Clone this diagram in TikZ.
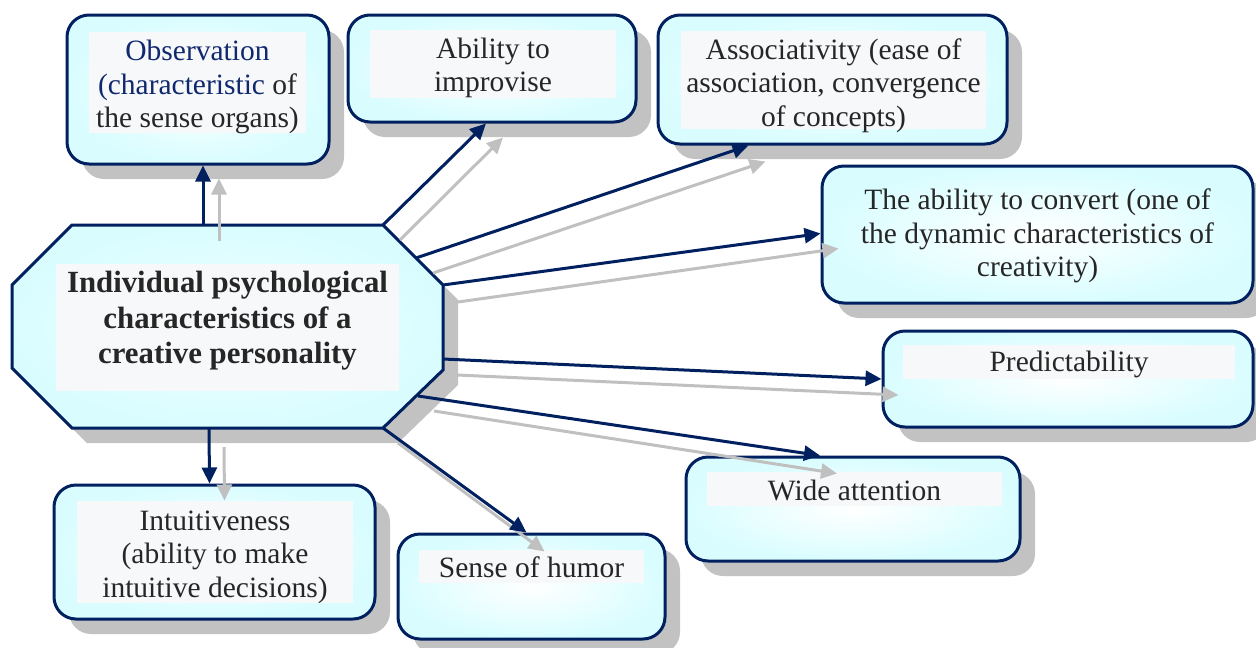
\documentclass[tikz,border=0pt]{standalone}
\usepackage{fontspec}
\setmainfont{Liberation Serif}
\usetikzlibrary{arrows.meta,shadows,calc}
\definecolor{navy}{RGB}{0,32,96}
\definecolor{boxcyan}{RGB}{217,253,255}
\definecolor{shadowgray}{RGB}{194,194,194}
\definecolor{txtbg}{RGB}{247,248,250}
\definecolor{txt}{RGB}{38,38,38}
\definecolor{arrgray}{RGB}{192,192,192}
\definecolor{navytext}{RGB}{16,40,110}
\begin{document}
\begin{tikzpicture}[x=1pt,y=-1pt,
  box/.style={draw=navy, line width=3pt, rounded corners=22pt,
    inner color=white, outer color=boxcyan,
    general shadow={fill=shadowgray, shadow xshift=15pt, shadow yshift=-15pt},
    inner sep=0pt},
  txtbg/.style={fill=txtbg, inner sep=0pt},
  plaintxt/.style={inner sep=0pt, text=txt, align=center,
    font=\fontsize{29.5}{33.5}\selectfont},
  navyarr/.style={draw=navy, line width=3pt, -{Triangle[length=16pt,width=15pt]}},
  grayarr/.style={draw=arrgray, line width=3pt, -{Triangle[length=16pt,width=15pt]}}
]
\useasboundingbox (0,0) rectangle (1256,648);

% boxes
\node[box, minimum width=262pt, minimum height=149pt] (obs) at (198,89.5) {};
\node[box, minimum width=288pt, minimum height=107pt] (imp) at (492,68.5) {};
\node[box, minimum width=349pt, minimum height=129pt] (ass) at (832.5,79.5) {};
\node[box, minimum width=431pt, minimum height=137pt] (conv) at (1037.5,234.5) {};
\node[box, minimum width=370pt, minimum height=96pt] (pred) at (1068,379) {};
\node[box, minimum width=334pt, minimum height=104pt] (wide) at (853,509) {};
\node[box, minimum width=267pt, minimum height=105pt] (hum) at (531.5,586.5) {};
\node[box, minimum width=321pt, minimum height=134pt] (int) at (214.5,552) {};

% central octagon
\fill[shadowgray] (87,240) -- (398,240) -- (458,300) -- (458,385) -- (398,443) -- (87,443) -- (27,383) -- (27,300) -- cycle;
\coordinate (o1) at (72,225);
\coordinate (o2) at (383,225);
\coordinate (o3) at (443,285);
\coordinate (o4) at (443,370);
\coordinate (o5) at (383,428);
\coordinate (o6) at (72,428);
\coordinate (o7) at (12,368);
\coordinate (o8) at (12,285);
\draw[navy, line width=3pt, inner color=boxcyan!40!white, outer color=boxcyan, line join=miter]
  (o1) -- (o2) -- (o3) -- (o4) -- (o5) -- (o6) -- (o7) -- (o8) -- cycle;
\node[txtbg, minimum width=343pt, minimum height=127pt] (ctr-bg) at (227.5,327.5) {};
\node[inner sep=0pt, text=txt, align=center,
  font=\fontsize{30.8}{35.5}\selectfont\bfseries] (ctr) at (227.5,321)
  {Individual psychological\\characteristics of a\\creative personality};

% text backgrounds
\node[txtbg, minimum width=217pt, minimum height=101pt] (obs-bg) at (197.5,82.5) {};
\node[txtbg, minimum width=246pt, minimum height=68pt] (imp-bg) at (493,64) {};
\node[txtbg, minimum width=305pt, minimum height=98pt] (ass-bg) at (833.5,80) {};
\node[txtbg, minimum width=332pt, minimum height=34pt] (pred-bg) at (1069,362) {};
\node[txtbg, minimum width=295pt, minimum height=34pt] (wide-bg) at (854.5,489) {};
\node[txtbg, minimum width=225pt, minimum height=33pt] (hum-bg) at (531.5,566.5) {};
\node[txtbg, minimum width=276pt, minimum height=102pt] (int-bg) at (215,552) {};

% texts
\node[plaintxt] (obs-t) at (197.5,87)
  {\textcolor{navytext}{Observation}\\\textcolor{navytext}{(characteristic} of\\the sense organs)};
\node[plaintxt] (imp-t) at (493,68)
  {Ability to\\improvise};
\node[plaintxt] (ass-t) at (833.5,85.5)
  {Associativity (ease of\\association, convergence\\of concepts)};
\node[plaintxt] (conv-t) at (1037.5,236)
  {The ability to convert (one of\\the dynamic characteristics of\\creativity)};
\node[plaintxt] (pred-t) at (1069,364.5) {Predictability};
\node[plaintxt] (wide-t) at (854.5,490) {Wide attention};
\node[plaintxt] (hum-t) at (531.5,567.5) {Sense of humor};
\node[plaintxt] (int-t) at (215,557)
  {Intuitiveness\\(ability to make\\intuitive decisions)};

% arrow tails on the octagon
\coordinate (tObsN) at (203,225);   \coordinate (tObsG) at (219,241);
\coordinate (tImpN) at (383,225);   \coordinate (tImpG) at (400,240);
\coordinate (tAssN) at (416,258);   \coordinate (tAssG) at (433,273);
\coordinate (tConvN) at (443,285);  \coordinate (tConvG) at (458,302);
\coordinate (tPredN) at (443,359);  \coordinate (tPredG) at (457,375);
\coordinate (tWideN) at (418,396);  \coordinate (tWideG) at (434,411);
\coordinate (tHumN) at (383,428);   \coordinate (tHumG) at (398,443);
\coordinate (tIntN) at (209,428);   \coordinate (tIntG) at (224,447);

% gray arrows
\draw[grayarr] (tObsG) -- ([xshift=21pt,yshift=-13pt]obs.south);
\draw[grayarr] (tImpG) -- ([xshift=11pt,yshift=-14pt]imp.south);
\draw[grayarr] (tAssG) -- ([xshift=-67pt,yshift=-16pt]ass.south);
\draw[grayarr] (tConvG) -- ([xshift=18pt,yshift=-14pt]conv.west);
\draw[grayarr] (tPredG) -- ([xshift=17pt,yshift=-16pt]pred.west);
\draw[grayarr] (tWideG) -- ([xshift=-16pt,yshift=-18pt]wide.north);
\draw[grayarr] (tHumG) -- ([xshift=13pt,yshift=-19pt]hum.north);
\draw[grayarr] (tIntG) -- ([xshift=10pt,yshift=-17pt]int.north);

% navy arrows
\draw[navyarr] (tObsN) -- ([xshift=5pt]obs.south);
\draw[navyarr] (tImpN) -- ([xshift=-6pt]imp.south);
\draw[navyarr] (tAssN) -- ([xshift=-84pt]ass.south);
\draw[navyarr] (tConvN) -- ([yshift=1pt]conv.west);
\draw[navyarr] (tPredN) -- (pred.west);
\draw[navyarr] (tWideN) -- ([xshift=-33pt]wide.north);
\draw[navyarr] (tHumN) -- ([xshift=-5pt]hum.north);
\draw[navyarr] (tIntN) -- ([xshift=-5pt]int.north);
\end{tikzpicture}
\end{document}
